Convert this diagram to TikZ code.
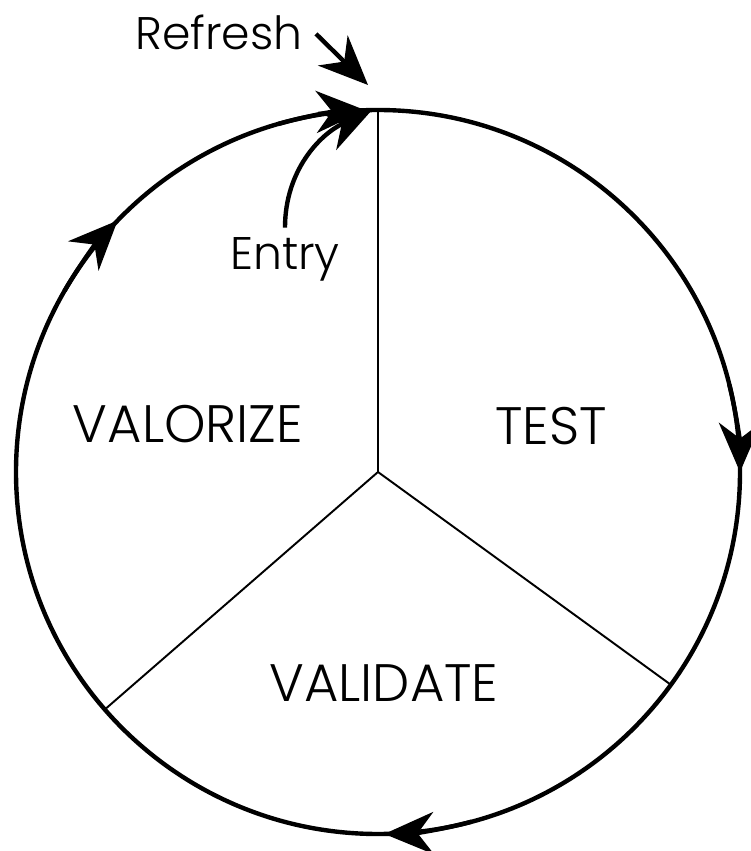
\documentclass[tikz,border=0pt]{standalone}
\usepackage{fontspec}
\setmainfont{Poppins Light}
\usetikzlibrary{calc,arrows.meta}

\begin{document}
\begin{tikzpicture}[
  cyc/.style={line width=2.5pt},
  spoke/.style={line width=1.1pt},
  tipped/.style={line width=2.5pt, -{Stealth[length=28pt, width=24pt, inset=9pt]}},
  phase/.style={font=\fontsize{30}{36}\selectfont, inner sep=0pt},
  tag/.style={font=\fontsize{26}{31}\selectfont, inner sep=0pt, anchor=base}]
\useasboundingbox (0,0) rectangle (15,17.02);
\coordinate (c) at (7.56,7.58);
\def\rad{7.24}
% wheel and spokes
\draw[cyc] (c) circle (\rad);
\coordinate (top) at ($(c)+(90:\rad)$);
\coordinate (lowl) at ($(c)+(221:\rad)$);
\coordinate (lowr) at ($(c)+(-36:\rad)$);
\draw[spoke] (c) -- (top);
\draw[spoke] (c) -- (lowl);
\draw[spoke] (c) -- (lowr);
% clockwise arrows on the rim
\foreach \a in {0,-89,136,92} {
  \coordinate (from) at ($(c)+(\a+14:\rad)$);
  \draw[tipped] (from) arc (\a+14:\a:\rad);
}
% labels
\node[phase] (valorize) at (3.76,8.53) {VALORIZE};
\node[phase] (test) at (11.02,8.50) {TEST};
\node[phase] (validate) at (7.68,3.36) {VALIDATE};
\node[tag] (refresh) at (4.38,16.02) {Refresh};
\node[tag] (entry) at (5.70,11.62) {Entry};
\coordinate (refreshtip) at (7.36,15.32);
\coordinate (entrytip) at ($(top)+(-0.12,0)$);
\draw[tipped] ($(refresh.east)+(0.26,-0.02)$) -- (refreshtip);
\draw[tipped] ($(entry.north)+(0,0.2)$) to[out=90, in=205] (entrytip);
\end{tikzpicture}
\end{document}
